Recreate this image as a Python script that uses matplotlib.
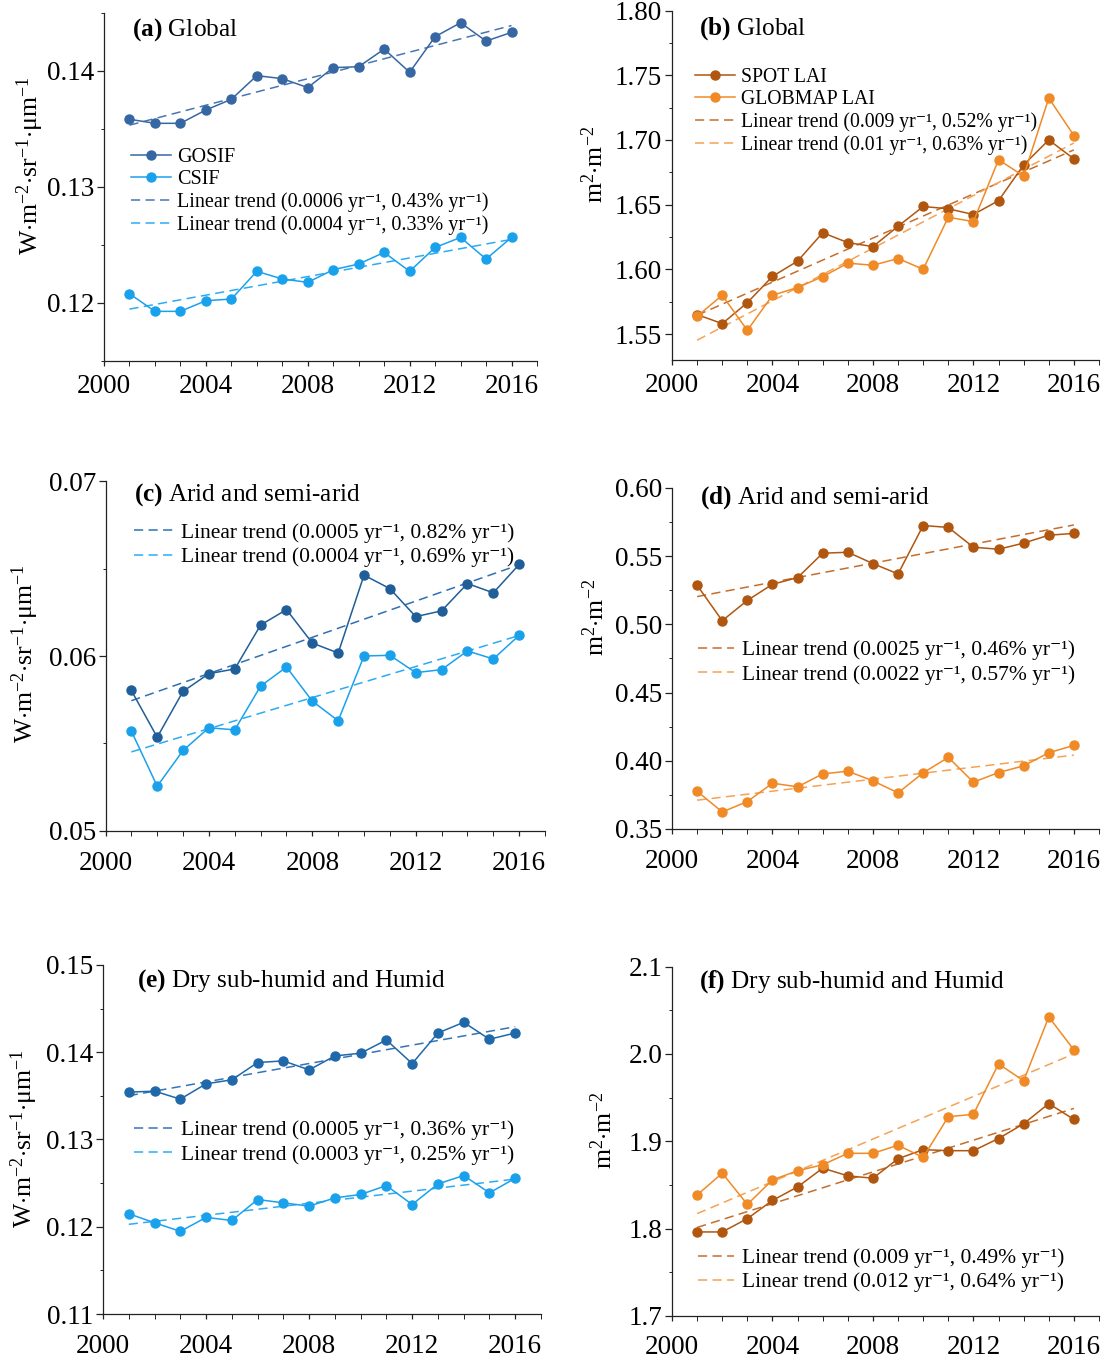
import numpy as np
import matplotlib
matplotlib.use('Agg')
import matplotlib.pyplot as plt
from matplotlib.ticker import MultipleLocator, FormatStrFormatter

plt.rcParams['font.family'] = ['Liberation Serif', 'DejaVu Serif']
plt.rcParams['mathtext.fontset'] = 'custom'
plt.rcParams['mathtext.rm'] = 'Liberation Serif'
plt.rcParams['mathtext.it'] = 'Liberation Serif:italic'
plt.rcParams['mathtext.bf'] = 'Liberation Serif:bold'

years = np.arange(2001, 2017)

# SIF (W m-2 sr-1 um-1)
gosif_global = [0.13584, 0.13549, 0.13549, 0.13664, 0.13756, 0.13960, 0.13934, 0.13857,
                0.14029, 0.14037, 0.14189, 0.13989, 0.14296, 0.14416, 0.14258, 0.14333]
csif_global = [0.12080, 0.11928, 0.11928, 0.12020, 0.12034, 0.12273, 0.12207, 0.12178,
               0.12287, 0.12336, 0.12436, 0.12273, 0.12479, 0.12565, 0.12379, 0.12565]
gosif_arid = [0.05803, 0.05536, 0.05798, 0.05899, 0.05926, 0.06177, 0.06265, 0.06074,
              0.06017, 0.06462, 0.06385, 0.06225, 0.06258, 0.06414, 0.06361, 0.06523]
csif_arid = [0.05571, 0.05256, 0.05460, 0.05590, 0.05578, 0.05828, 0.05937, 0.05742,
             0.05630, 0.06000, 0.06004, 0.05905, 0.05922, 0.06029, 0.05983, 0.06118]
gosif_humid = [0.13543, 0.13554, 0.13463, 0.13638, 0.13684, 0.13882, 0.13901, 0.13798,
               0.13958, 0.13989, 0.14141, 0.13870, 0.14221, 0.14343, 0.14149, 0.14221]
csif_humid = [0.12149, 0.12046, 0.11947, 0.12107, 0.12072, 0.12312, 0.12274, 0.12236,
              0.12331, 0.12370, 0.12472, 0.12255, 0.12491, 0.12587, 0.12389, 0.12556]

# LAI (m2 m-2)
spot_global = [1.5651, 1.5581, 1.5743, 1.5946, 1.6064, 1.6283, 1.6207, 1.6176,
               1.6333, 1.6486, 1.6468, 1.6424, 1.6531, 1.6807, 1.7000, 1.6854]
globmap_global = [1.5638, 1.5800, 1.5529, 1.5800, 1.5860, 1.5944, 1.6048, 1.6032,
                  1.6084, 1.6001, 1.6403, 1.6369, 1.6847, 1.6721, 1.7324, 1.7034]
spot_arid = [0.5287, 0.5027, 0.5176, 0.5294, 0.5343, 0.5522, 0.5529, 0.5446,
             0.5370, 0.5725, 0.5711, 0.5566, 0.5551, 0.5596, 0.5654, 0.5667]
globmap_arid = [0.3777, 0.3625, 0.3701, 0.3836, 0.3809, 0.3904, 0.3924, 0.3853,
                0.3765, 0.3912, 0.4025, 0.3843, 0.3914, 0.3963, 0.4059, 0.4113]
spot_humid = [1.7962, 1.7962, 1.8115, 1.8323, 1.8477, 1.8692, 1.8604, 1.8577,
              1.8800, 1.8904, 1.8892, 1.8892, 1.9031, 1.9200, 1.9431, 1.9250]
globmap_humid = [1.8385, 1.8635, 1.8277, 1.8558, 1.8662, 1.8731, 1.8862, 1.8862,
                 1.8954, 1.8815, 1.9281, 1.9308, 1.9885, 1.9692, 2.0423, 2.0046]

trend_labels = {
    'a': ['0.0006', '0.43%', '0.0004', '0.33%'],
    'b': ['0.009', '0.52%', '0.01', '0.63%'],
    'c': ['0.0005', '0.82%', '0.0004', '0.69%'],
    'd': ['0.0025', '0.46%', '0.0022', '0.57%'],
    'e': ['0.0005', '0.36%', '0.0003', '0.25%'],
    'f': ['0.009', '0.49%', '0.012', '0.64%'],
}
titles = {'a': 'Global', 'b': 'Global', 'c': 'Arid and semi-arid', 'd': 'Arid and semi-arid',
          'e': 'Dry sub-humid and Humid', 'f': 'Dry sub-humid and Humid'}

SIF_LABEL = r'W$\cdot$m$^{-2}$$\cdot$sr$^{-1}$$\cdot$μm$^{-1}$'
LAI_LABEL = r'm$^{2}$$\cdot$m$^{-2}$'

W, H = 1105, 1365
fig = plt.figure(figsize=(W / 100, H / 100), dpi=100)


def make_ax(l, t, r, b):
    return fig.add_axes([l / W, 1 - b / H, (r - l) / W, (b - t) / H])


def style(ax, ylim, major, minor, fmt, xpad):
    ax.set_xlim(2000, 2017)
    ax.set_ylim(*ylim)
    ax.xaxis.set_major_locator(MultipleLocator(4))
    ax.xaxis.set_minor_locator(MultipleLocator(1))
    ax.yaxis.set_major_locator(MultipleLocator(major))
    ax.yaxis.set_minor_locator(MultipleLocator(minor))
    ax.yaxis.set_major_formatter(FormatStrFormatter(fmt))
    for s in ['top', 'right']:
        ax.spines[s].set_visible(False)
    for s in ['left', 'bottom']:
        ax.spines[s].set_linewidth(0.9)
        ax.spines[s].set_color('#222222')
    ax.tick_params(direction='out', labelsize=19.5, width=0.9, color='#222222')
    ax.tick_params(axis='y', which='major', length=5, pad=2)
    ax.tick_params(axis='y', which='minor', length=2.5)
    ax.tick_params(axis='x', which='both', length=3.5, pad=xpad)


def series(ax, y, c_line, c_trend, label=None, trend_label=None):
    ln, = ax.plot(years, y, '-o', color=c_line, lw=1.1, ms=6.5, label=label, zorder=3)
    k, b0 = np.polyfit(years, y, 1)
    tr, = ax.plot(years, k * years + b0, color=c_trend, lw=1.1, ls=(0, (6, 3.5)),
                  label=trend_label, zorder=2)
    return ln, tr


def tlabel(slope, pct):
    return 'Linear trend (' + slope + ' yr⁻¹, ' + pct + ' yr⁻¹)'


def decorate(ax, key, title_xy, ylab, ylab_xy):
    ax.text(title_xy[0], title_xy[1], r'$\mathbf{(' + key + r')}$ ' + titles[key],
            transform=ax.transAxes, fontsize=18.2, ha='left', va='center')
    ax.text(ylab_xy[0], ylab_xy[1], ylab, transform=ax.transAxes, rotation=90,
            fontsize=18.5, ha='center', va='center')


def legend(ax, handles, xy, size, hl, pad, spacing):
    ax.legend(handles=handles, loc='center left', bbox_to_anchor=xy, frameon=False,
              fontsize=size, borderpad=0, borderaxespad=0, labelspacing=spacing,
              handlelength=hl, handletextpad=pad)


C_GOSIF = {'a': '#3667a2', 'c': '#1f5e98', 'e': '#1f68aa'}
C_GOSIF_T = {'a': '#4677b4', 'c': '#2f70b0', 'e': '#3374b8'}
C_CSIF, C_CSIF_T = '#1aa1ec', '#2bacf2'
C_SPOT, C_SPOT_T = '#b0560f', '#c46e2c'
C_GLOB, C_GLOB_T = '#f08a26', '#f5a255'

# ---- (a)
ax = make_ax(104, 13, 537, 361)
style(ax, (0.115, 0.145), 0.01, 0.005, '%.2f', 6)
l1, t1 = series(ax, gosif_global, C_GOSIF['a'], C_GOSIF_T['a'], 'GOSIF',
                tlabel(*trend_labels['a'][:2]))
l2, t2 = series(ax, csif_global, C_CSIF, C_CSIF_T, 'CSIF', tlabel(*trend_labels['a'][2:]))
legend(ax, [l1, l2, t1, t2], (0.062, 0.488), 14.5, 2.0, 0.3, 0.16)
decorate(ax, 'a', (0.065, 0.951), SIF_LABEL, (-0.17, 0.56))

# ---- (b)
ax = make_ax(672, 10.5, 1099, 360)
style(ax, (1.53, 1.80), 0.05, 0.025, '%.2f', 6)
l1, t1 = series(ax, spot_global, C_SPOT, C_SPOT_T, 'SPOT LAI', tlabel(*trend_labels['b'][:2]))
l2, t2 = series(ax, globmap_global, C_GLOB, C_GLOB_T, 'GLOBMAP LAI',
                tlabel(*trend_labels['b'][2:]))
legend(ax, [l1, l2, t1, t2], (0.055, 0.712), 14.2, 2.0, 0.3, 0.16)
decorate(ax, 'b', (0.063, 0.948), LAI_LABEL, (-0.181, 0.56))

# ---- (c)
ax = make_ax(105.5, 481, 545, 831)
style(ax, (0.05, 0.07), 0.01, 0.005, '%.2f', 11)
l1, t1 = series(ax, gosif_arid, C_GOSIF['c'], C_GOSIF_T['c'], None, tlabel(*trend_labels['c'][:2]))
l2, t2 = series(ax, csif_arid, C_CSIF, C_CSIF_T, None, tlabel(*trend_labels['c'][2:]))
legend(ax, [t1, t2], (0.065, 0.817), 15.5, 1.8, 0.4, 0.2)
decorate(ax, 'c', (0.065, 0.962), SIF_LABEL, (-0.182, 0.505))

# ---- (d)
ax = make_ax(672, 488, 1099, 829)
style(ax, (0.35, 0.60), 0.05, 0.025, '%.2f', 11)
l1, t1 = series(ax, spot_arid, C_SPOT, C_SPOT_T, None, tlabel(*trend_labels['d'][:2]))
l2, t2 = series(ax, globmap_arid, C_GLOB, C_GLOB_T, None, tlabel(*trend_labels['d'][2:]))
legend(ax, [t1, t2], (0.062, 0.4885), 15.5, 1.65, 0.35, 0.2)
decorate(ax, 'd', (0.066, 0.972), LAI_LABEL, (-0.178, 0.62))

# ---- (e)
ax = make_ax(103, 965, 541, 1314)
style(ax, (0.11, 0.15), 0.01, 0.005, '%.2f', 11)
l1, t1 = series(ax, gosif_humid, C_GOSIF['e'], C_GOSIF_T['e'], None, tlabel(*trend_labels['e'][:2]))
l2, t2 = series(ax, csif_humid, C_CSIF, C_CSIF_T, None, tlabel(*trend_labels['e'][2:]))
legend(ax, [t1, t2], (0.07, 0.492), 15.5, 1.8, 0.4, 0.2)
decorate(ax, 'e', (0.077, 0.955), SIF_LABEL, (-0.179, 0.5025))

# ---- (f)
ax = make_ax(672, 966.5, 1099, 1316)
style(ax, (1.7, 2.1), 0.1, 0.05, '%.1f', 10)
l1, t1 = series(ax, spot_humid, C_SPOT, C_SPOT_T, None, tlabel(*trend_labels['f'][:2]))
l2, t2 = series(ax, globmap_humid, C_GLOB, C_GLOB_T, None, tlabel(*trend_labels['f'][2:]))
legend(ax, [t1, t2], (0.062, 0.131), 15.5, 1.65, 0.35, 0.2)
decorate(ax, 'f', (0.063, 0.958), LAI_LABEL, (-0.16, 0.532))

fig.savefig('out.png', dpi=100)
